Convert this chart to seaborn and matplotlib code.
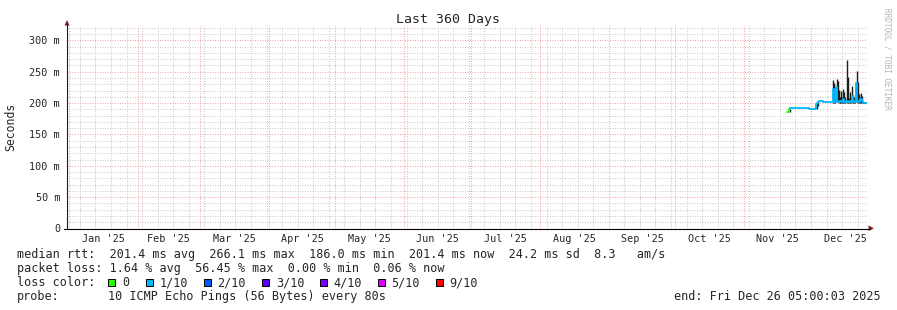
import numpy as np
import pandas as pd
import matplotlib
matplotlib.use("Agg")
import matplotlib.pyplot as plt
import matplotlib.dates as mdates
import matplotlib.transforms as mtransforms
from matplotlib.ticker import FixedLocator, FuncFormatter, MultipleLocator, NullFormatter
from matplotlib.patches import Rectangle, Polygon
import seaborn as sns

# ---------------- data ----------------
title = "Last 360 Days"
y_label = "Seconds"
range_start = "2024-12-31 05:00:03"
range_end = "2025-12-26 05:00:03"
series_start = "2025-11-20 00:00"
step_hours = 12

median_ms = ([185.5, 186.0, 186.5, 191.0] + [191.5] * 17 + [190.5] * 5 +
             [191.0, 199.0, 200.0, 201.0, 203.0, 203.5, 203.0, 201.5] + [201.0] * 8 +
             [222, 201, 201, 226, 203, 201, 201, 203, 201, 206, 202, 201, 204, 202,
              201, 203, 201, 212, 203, 202, 201, 232, 204, 203, 202, 206, 204] +
             [200.5] * 4)
smoke_lo_ms = ([185.5, 186.0, 186.5, 186.0] + [191.5] * 17 + [190.5] * 5 +
               [191.0, 191.0, 195.0, 201.0, 203.0, 203.5, 203.0, 201.5] + [201.0] * 8 +
               [200, 200, 200, 201, 201, 200, 200, 200, 200, 200, 200, 200, 200, 200,
                200, 200, 200, 201, 200, 200, 200, 201, 200, 200, 200, 200, 200] +
               [200.0] * 4)
smoke_hi_ms = ([185.5, 186.0, 186.5, 191.0] + [191.5] * 17 + [190.5] * 5 +
               [191.0, 200.0, 201.0, 201.0, 203.0, 203.5, 203.0, 201.5] + [201.0] * 8 +
               [237, 232, 208, 239, 236, 221, 209, 220, 210, 222, 217, 209, 268, 242,
                208, 217, 208, 228, 213, 209, 206, 252, 234, 215, 210, 216, 212] +
               [201.0] * 4)
loss_bucket = [0, 0, 0] + [1] * 70

month_labels = ["Jan '25", "Feb '25", "Mar '25", "Apr '25", "May '25", "Jun '25",
                "Jul '25", "Aug '25", "Sep '25", "Oct '25", "Nov '25", "Dec '25"]
month_starts = pd.date_range("2025-01-01", periods=13, freq="MS")
y_ticks = [0, 50, 100, 150, 200, 250, 300]

loss_colors = ["#26ff00", "#00b8ff", "#0059ff", "#5e00ff", "#7e00ff", "#dd00ff", "#ff0000"]
loss_labels = ["0", "1/10", "2/10", "3/10", "4/10", "5/10", "9/10"]

line_rtt = "median rtt:  201.4 ms avg  266.1 ms max  186.0 ms min  201.4 ms now  24.2 ms sd  8.3   am/s"
line_loss = "packet loss: 1.64 % avg  56.45 % max  0.00 % min  0.06 % now"
line_color = "loss color:"
line_probe_a = "probe:"
line_probe_b = "10 ICMP Echo Pings (56 Bytes) every 80s"
line_end = "end: Fri Dec 26 05:00:03 2025"
watermark = "RRDTOOL / TOBI OETIKER"

# ---------------- figure ----------------
W, H = 897, 310
sns.set_style("white")
plt.rcParams["font.family"] = ["DejaVu Sans Mono", "DejaVu Sans"]

fig = plt.figure(figsize=(W / 100, H / 100), dpi=100)
fig.patch.set_facecolor("white")

def fx(px):
    return px / W

def fy(py):
    return 1 - py / H

ax_l, ax_r, ax_t, ax_b = 67, 867, 26, 228.5
ax = fig.add_axes([fx(ax_l), fy(ax_b), (ax_r - ax_l) / W, (ax_b - ax_t) / H])
ax.set_facecolor("white")

times = pd.date_range(series_start, periods=len(median_ms), freq=f"{step_hours}h")
df = pd.DataFrame({"time": times, "median": median_ms, "lo": smoke_lo_ms,
                   "hi": smoke_hi_ms, "loss": loss_bucket})

# smoke
ax.vlines(df["time"], df["lo"], df["hi"], color="#1c1c1c", lw=1.0, zorder=3)

# median line coloured by loss
run_id = (df["loss"] != df["loss"].shift()).cumsum()
for rid, seg in df.groupby(run_id):
    idx = seg.index.tolist()
    if idx[-1] + 1 < len(df):
        idx = idx + [idx[-1] + 1]
    part = df.loc[idx]
    sns.lineplot(data=part, x="time", y="median", ax=ax,
                 color=loss_colors[int(seg["loss"].iloc[0])],
                 lw=1.3, drawstyle="steps-mid", legend=False, zorder=4)

ax.set_xlim(mdates.date2num(pd.Timestamp(range_start)), mdates.date2num(pd.Timestamp(range_end)))
ax.set_ylim(0, 323)

# grids
ax.xaxis.set_major_locator(mdates.MonthLocator())
ax.xaxis.set_minor_locator(mdates.WeekdayLocator(byweekday=mdates.MO))
ax.xaxis.set_major_formatter(NullFormatter())
ax.yaxis.set_major_locator(FixedLocator(y_ticks))
ax.yaxis.set_minor_locator(MultipleLocator(10))
ax.yaxis.set_major_formatter(FuncFormatter(lambda v, p: "0" if v == 0 else f"{int(v)} m"))
ax.grid(which="minor", color="#cbcbcb", lw=0.72, ls=(0, (1, 1.5)), zorder=0)
ax.grid(which="major", color="#f0a4a4", lw=0.72, ls=(0, (1, 1.5)), zorder=1)
ax.set_axisbelow(True)
ax.tick_params(axis="both", which="both", length=0)
ax.tick_params(axis="y", labelsize=7.3, pad=5)
ax.set_xlabel("")
ax.set_ylabel("")

for s in ["top", "right", "bottom", "left"]:
    ax.spines[s].set_visible(False)

# axes lines with arrows
fig.add_artist(plt.Line2D([fx(ax_l), fx(ax_l)], [fy(ax_b), fy(24)], color="#1f1f1f", lw=0.8))
fig.add_artist(plt.Line2D([fx(ax_l - 3), fx(870)], [fy(ax_b), fy(ax_b)], color="#000000", lw=0.8))
fig.add_artist(Polygon([[fx(64.5), fy(25.5)], [fx(69.5), fy(25.5)], [fx(67), fy(20)]],
                       closed=True, color="#801f1f", lw=0))
fig.add_artist(Polygon([[fx(868.5), fy(225.5)], [fx(868.5), fy(231)], [fx(874), fy(228.3)]],
                       closed=True, color="#801f1f", lw=0))

# month labels centred in their month
lab_tr = mtransforms.blended_transform_factory(ax.transData, fig.transFigure)
for i, lab in enumerate(month_labels):
    mid = month_starts[i] + (month_starts[i + 1] - month_starts[i]) / 2
    ax.text(mdates.date2num(mid), fy(238.5), lab, transform=lab_tr,
            ha="center", va="center", fontsize=7.3, clip_on=False)

# title, y label, watermark
fig.text(fx(448), fy(19), title, ha="center", va="center", fontsize=9.5)
fig.text(fx(11), fy(127), y_label, ha="center", va="center", rotation=90, fontsize=8.3)
fig.text(fx(886.5), fy(59), watermark, ha="center", va="center", rotation=270,
         fontsize=5.6, color="#b4b4b4")

# legend block
fs = 8.45
fig.text(fx(16.5), fy(254.5), line_rtt, ha="left", va="center", fontsize=fs)
fig.text(fx(16.5), fy(268.5), line_loss, ha="left", va="center", fontsize=fs)
fig.text(fx(16.5), fy(282.5), line_color, ha="left", va="center", fontsize=fs)
box_x = [108, 146, 203.5, 262, 319.5, 377.5, 435.5]
for bx, c, lab in zip(box_x, loss_colors, loss_labels):
    fig.add_artist(Rectangle((fx(bx), fy(286)), 7 / W, 7 / H, facecolor=c,
                             edgecolor="black", lw=0.7))
    fig.text(fx(bx + 14), fy(282.5), lab, ha="left", va="center", fontsize=fs)
fig.text(fx(16.5), fy(296.5), line_probe_a, ha="left", va="center", fontsize=fs)
fig.text(fx(107.5), fy(296.5), line_probe_b, ha="left", va="center", fontsize=fs)
fig.text(fx(881), fy(296.5), line_end, ha="right", va="center", fontsize=fs)

fig.savefig("out.png", dpi=100, facecolor="white")
